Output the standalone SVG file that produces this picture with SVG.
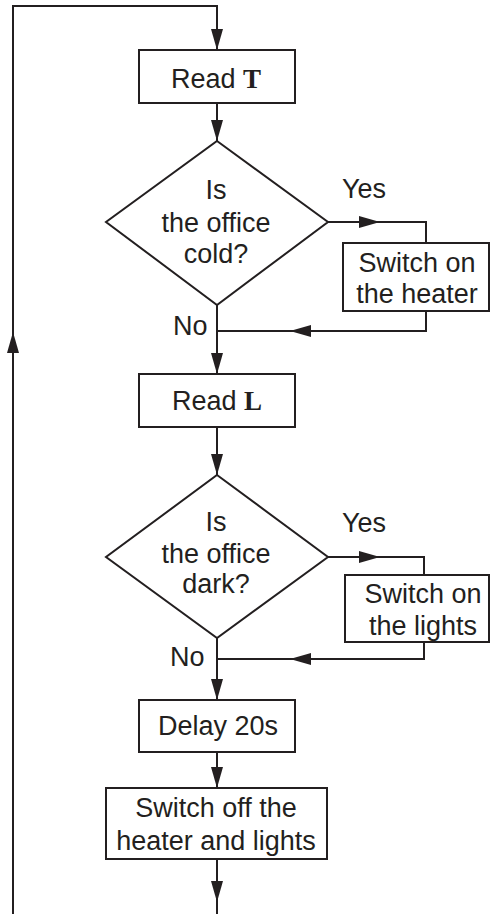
<svg xmlns="http://www.w3.org/2000/svg" width="490" height="914" viewBox="0 0 490 914">
<style>
.s{fill:#fff;stroke:#231f20;stroke-width:2}
.c{fill:none;stroke:#231f20;stroke-width:2}
.t{font-family:"Liberation Sans",Arial,sans-serif;font-size:27px;fill:#231f20}
.m{text-anchor:middle}
.b{font-family:"Liberation Serif","Times New Roman",serif;font-weight:bold}
</style>
<defs>
<marker id="a" markerUnits="userSpaceOnUse" markerWidth="22" markerHeight="12" refX="21" refY="6" orient="auto">
<path d="M0,0 L21,6 L0,12 z" fill="#231f20"/>
</marker>
</defs>
<rect width="490" height="914" fill="#fff"/>
<g id="connectors">
<path class="c" d="M13,914 V332" marker-end="url(#a)"/>
<path class="c" d="M13,332 V6 H217 V50" marker-end="url(#a)"/>
<path class="c" d="M217,103 V141" marker-end="url(#a)"/>
<path class="c" d="M328,222 H380" marker-end="url(#a)"/>
<path class="c" d="M380,222 H426 V243"/>
<path class="c" d="M426,311 V331 H290" marker-end="url(#a)"/>
<path class="c" d="M290,331 H217"/>
<path class="c" d="M217,305 V374" marker-end="url(#a)"/>
<path class="c" d="M217,427 V475" marker-end="url(#a)"/>
<path class="c" d="M328,557 H380" marker-end="url(#a)"/>
<path class="c" d="M380,557 H424 V575"/>
<path class="c" d="M424,642 V659 H290" marker-end="url(#a)"/>
<path class="c" d="M290,659 H217"/>
<path class="c" d="M217,638 V700" marker-end="url(#a)"/>
<path class="c" d="M217,752 V788" marker-end="url(#a)"/>
<path class="c" d="M217,859 V902" marker-end="url(#a)"/>
<path class="c" d="M217,902 V914"/>
<text class="t" x="342" y="198">Yes</text>
<text class="t" x="173" y="335">No</text>
<text class="t" x="342" y="532">Yes</text>
<text class="t" x="170" y="666">No</text>
</g>
<g id="readT">
<rect class="s" x="139" y="50" width="156" height="53"/>
<text class="t m" x="216" y="88">Read <tspan class="b">T</tspan></text>
</g>
<g id="cold">
<polygon class="s" points="217,141 328,222 217,305 106,222"/>
<text class="t m" x="216" y="199">Is</text>
<text class="t m" x="216" y="232">the office</text>
<text class="t m" x="216" y="263">cold?</text>
</g>
<g id="heater">
<rect class="s" x="343" y="243" width="146" height="68"/>
<text class="t m" x="417" y="272">Switch on</text>
<text class="t m" x="417" y="303">the heater</text>
</g>
<g id="readL">
<rect class="s" x="139" y="374" width="156" height="53"/>
<text class="t m" x="217" y="410">Read <tspan class="b">L</tspan></text>
</g>
<g id="dark">
<polygon class="s" points="217,475 328,557 217,638 106,557"/>
<text class="t m" x="216" y="531">Is</text>
<text class="t m" x="216" y="563">the office</text>
<text class="t m" x="216" y="593">dark?</text>
</g>
<g id="lights">
<rect class="s" x="345" y="575" width="144" height="67"/>
<text class="t m" x="423" y="603">Switch on</text>
<text class="t m" x="423" y="635">the lights</text>
</g>
<g id="delay">
<rect class="s" x="139" y="700" width="156" height="52"/>
<text class="t m" x="218" y="735">Delay 20s</text>
</g>
<g id="off">
<rect class="s" x="106" y="788" width="221" height="71"/>
<text class="t m" x="216" y="817">Switch off the</text>
<text class="t m" x="216" y="850">heater and lights</text>
</g>
</svg>
